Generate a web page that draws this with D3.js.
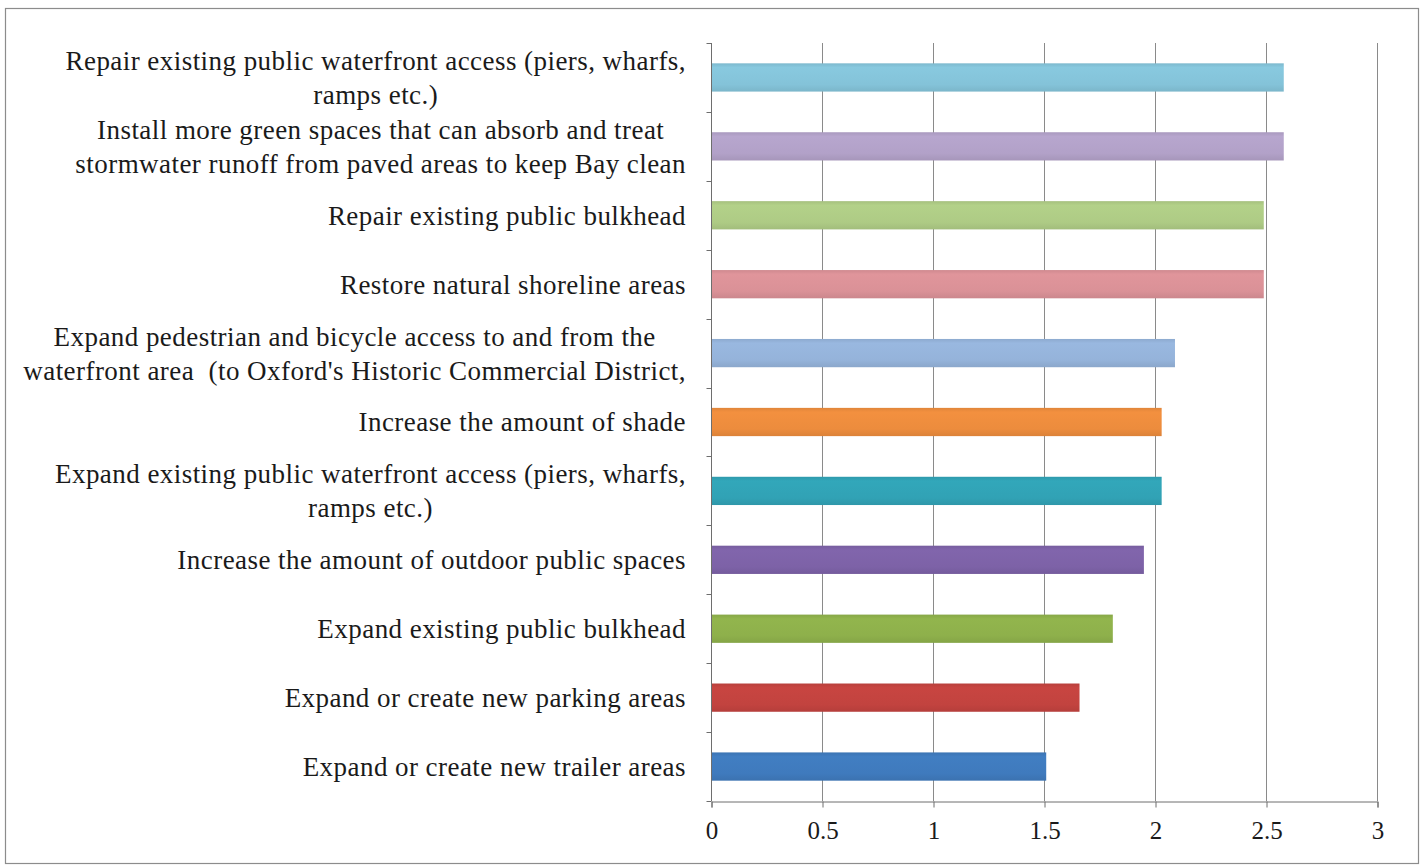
<!DOCTYPE html>
<html>
<head>
<meta charset="utf-8">
<script src="https://cdn.jsdelivr.net/npm/d3@7"></script>
<style>
  html, body { margin: 0; padding: 0; background: #fff; }
  svg { display: block; }
  text { font-family: "Liberation Serif", "DejaVu Serif", serif; fill: #1a1a1a; white-space: pre; }
</style>
</head>
<body>
<svg id="chart" width="1426" height="865"></svg>
<script>
// Categories, top to bottom; each entry lists the wrapped lines of its label
const categories = [
  ["Repair existing public waterfront access (piers, wharfs,", "ramps etc.)"],
  ["Install more green spaces that can absorb and treat", "stormwater runoff from paved areas to keep Bay clean"],
  ["Repair existing public bulkhead"],
  ["Restore natural shoreline areas"],
  ["Expand pedestrian and bicycle access to and from the", "waterfront area  (to Oxford's Historic Commercial District,"],
  ["Increase the amount of shade"],
  ["Expand existing public waterfront access (piers, wharfs,", "ramps etc.)"],
  ["Increase the amount of outdoor public spaces"],
  ["Expand existing public bulkhead"],
  ["Expand or create new parking areas"],
  ["Expand or create new trailer areas"]
];

// Average rating for each category (same order)
const values = [2.58, 2.58, 2.49, 2.49, 2.09, 2.03, 2.03, 1.95, 1.81, 1.66, 1.51];

// Bar colours (same order)
const colors = ["#84c3d9", "#b2a1c8", "#aecb85", "#da9197", "#95b3da", "#ec8c3d",
                "#31a2b5", "#7d62a7", "#8eb04b", "#c2433f", "#3f7abd"];

// Value-axis ticks
const xTicks = [0, 0.5, 1, 1.5, 2, 2.5, 3];

const svg = d3.select("#chart");
const plot = { left: 711, right: 1377, top: 43, bottom: 801 };

// Outer frame
svg.append("rect")
  .attr("x", 5.5).attr("y", 8.5)
  .attr("width", 1413).attr("height", 855)
  .attr("fill", "#fff")
  .attr("stroke", "#8c8c8c").attr("stroke-width", 1.2);

const x = d3.scaleLinear().domain([0, 3]).range([plot.left, plot.right]);
const y = d3.scaleBand()
  .domain(d3.range(categories.length))
  .range([plot.top, plot.bottom])
  .paddingInner(0.59)
  .paddingOuter(0.295);

// Soft vertical gradients for each bar
const defs = svg.append("defs");
colors.forEach((c, i) => {
  const g = defs.append("linearGradient")
    .attr("id", "barGrad" + i)
    .attr("x1", 0).attr("y1", 0).attr("x2", 0).attr("y2", 1);
  const base = d3.color(c);
  g.append("stop").attr("offset", "0%").attr("stop-color", base.darker(0.15));
  g.append("stop").attr("offset", "15%").attr("stop-color", base.brighter(0.08));
  g.append("stop").attr("offset", "75%").attr("stop-color", base);
  g.append("stop").attr("offset", "100%").attr("stop-color", base.darker(0.2));
});

// Gridlines
svg.append("g")
  .selectAll("line")
  .data(xTicks.filter(d => d > 0))
  .join("line")
  .attr("x1", d => Math.round(x(d)) + 0.5)
  .attr("x2", d => Math.round(x(d)) + 0.5)
  .attr("y1", plot.top)
  .attr("y2", plot.bottom)
  .attr("stroke", "#8a8a8a")
  .attr("stroke-width", 1);

// Bars
svg.append("g")
  .selectAll("rect")
  .data(values)
  .join("rect")
  .attr("x", x(0) + 1)
  .attr("y", (d, i) => y(i))
  .attr("width", d => x(d) - x(0) - 1)
  .attr("height", y.bandwidth())
  .attr("fill", (d, i) => `url(#barGrad${i})`);

// Category axis (left)
const yAxisG = svg.append("g").attr("transform", `translate(${plot.left + 0.5},0)`);
yAxisG.append("line")
  .attr("y1", plot.top).attr("y2", plot.bottom)
  .attr("stroke", "#6e6e6e");
const boundaries = d3.range(categories.length + 1).map(i => plot.top + i * y.step());
yAxisG.selectAll("line.tick")
  .data(boundaries)
  .join("line")
  .attr("class", "tick")
  .attr("x1", -5).attr("x2", 0)
  .attr("y1", d => Math.round(d) + 0.5)
  .attr("y2", d => Math.round(d) + 0.5)
  .attr("stroke", "#6e6e6e");

// Category labels: right-aligned block, wrapped lines centred within it
const labelRight = 686;
const fontSize = 27;
const lineGap = 34;
const labels = svg.append("g")
  .attr("font-size", fontSize)
  .attr("letter-spacing", 0.45);
categories.forEach((lines, i) => {
  const cy = y(i) + y.bandwidth() / 2;
  const t = labels.append("text").attr("text-anchor", "middle");
  const spans = lines.map((s, k) =>
    t.append("tspan").text(s)
      .attr("y", cy + (k - (lines.length - 1) / 2) * lineGap)
      .attr("dy", "0.35em"));
  const maxW = d3.max(spans, sp => sp.node().getComputedTextLength());
  spans.forEach(sp => sp.attr("x", labelRight - maxW / 2));
});

// Value axis (bottom)
const xAxis = d3.axisBottom(x)
  .tickValues(xTicks)
  .tickSize(6)
  .tickPadding(14)
  .tickFormat(d3.format("~g"));
const xAxisG = svg.append("g")
  .attr("transform", `translate(0.5,${plot.bottom + 0.5})`)
  .call(xAxis);
xAxisG.select(".domain").attr("stroke", "#6e6e6e");
xAxisG.selectAll(".tick line").attr("stroke", "#6e6e6e");
xAxisG.selectAll(".tick text")
  .attr("font-family", "Liberation Serif, serif")
  .attr("font-size", 25)
  .attr("fill", "#1a1a1a");
</script>
</body>
</html>
